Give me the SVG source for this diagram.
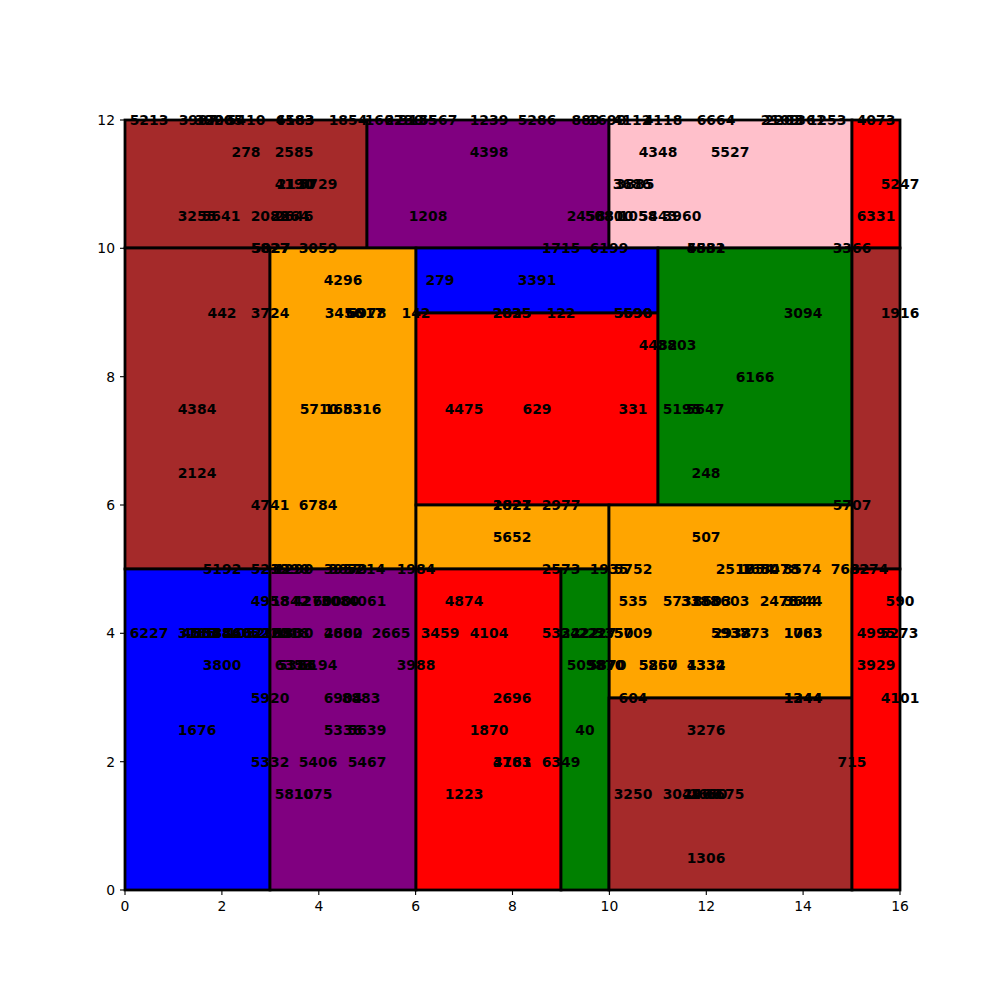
<svg xmlns="http://www.w3.org/2000/svg" width="1000" height="1000" viewBox="0 0 1000 1000">
<style>
.r{stroke:#000;stroke-width:2.78}
.br{fill:#a52a2a}.pu{fill:#800080}.pk{fill:#ffc0cb}.rd{fill:#ff0000}.or{fill:#ffa500}.bl{fill:#0000ff}.gr{fill:#008000}
.t{font-family:"DejaVu Sans",sans-serif;font-weight:bold;font-size:13.9px;text-anchor:middle;fill:#000}
.tk{stroke:#000;stroke-width:1.1}
.xl{font-family:"DejaVu Sans",sans-serif;font-size:13.9px;text-anchor:middle;fill:#000}
.yl{font-family:"DejaVu Sans",sans-serif;font-size:13.9px;text-anchor:end;fill:#000}
</style>
<rect width="1000" height="1000" fill="#fff"/>
<g id="rects">
<g id="r1"><rect class="r br" x="125" y="120" width="242" height="128"/></g>
<g id="r2"><rect class="r pu" x="367" y="120" width="242" height="128"/></g>
<g id="r3"><rect class="r pk" x="609" y="120" width="243" height="128"/></g>
<g id="r4"><rect class="r rd" x="852" y="120" width="48" height="128"/></g>
<g id="r5"><rect class="r br" x="125" y="248" width="145" height="321"/></g>
<g id="r6"><rect class="r or" x="270" y="248" width="146" height="321"/></g>
<g id="r7"><rect class="r bl" x="416" y="248" width="242" height="65"/></g>
<g id="r8"><rect class="r rd" x="416" y="313" width="242" height="192"/></g>
<g id="r9"><rect class="r gr" x="658" y="248" width="194" height="257"/></g>
<g id="r10"><rect class="r br" x="852" y="248" width="48" height="321"/></g>
<g id="r11"><rect class="r or" x="416" y="505" width="193" height="64"/></g>
<g id="r12"><rect class="r or" x="609" y="505" width="243" height="193"/></g>
<g id="r13"><rect class="r bl" x="125" y="569" width="145" height="321"/></g>
<g id="r14"><rect class="r pu" x="270" y="569" width="146" height="321"/></g>
<g id="r15"><rect class="r rd" x="416" y="569" width="145" height="321"/></g>
<g id="r16"><rect class="r gr" x="561" y="569" width="48" height="321"/></g>
<g id="r17"><rect class="r br" x="609" y="698" width="243" height="192"/></g>
<g id="r18"><rect class="r rd" x="852" y="569" width="48" height="321"/></g>
</g>
<g id="axes">
<rect x="125" y="120" width="775" height="770" fill="none" stroke="#000" stroke-width="1.1"/>
<g class="tk">
<line x1="125" y1="890" x2="125" y2="895"/><line x1="221.9" y1="890" x2="221.9" y2="895"/><line x1="318.8" y1="890" x2="318.8" y2="895"/><line x1="415.6" y1="890" x2="415.6" y2="895"/><line x1="512.5" y1="890" x2="512.5" y2="895"/><line x1="609.4" y1="890" x2="609.4" y2="895"/><line x1="706.3" y1="890" x2="706.3" y2="895"/><line x1="803.1" y1="890" x2="803.1" y2="895"/><line x1="900" y1="890" x2="900" y2="895"/>
<line x1="120" y1="890" x2="125" y2="890"/><line x1="120" y1="761.7" x2="125" y2="761.7"/><line x1="120" y1="633.3" x2="125" y2="633.3"/><line x1="120" y1="505" x2="125" y2="505"/><line x1="120" y1="376.7" x2="125" y2="376.7"/><line x1="120" y1="248.3" x2="125" y2="248.3"/><line x1="120" y1="120" x2="125" y2="120"/>
</g>
<text class="xl" x="125" y="911">0</text><text class="xl" x="221.9" y="911">2</text><text class="xl" x="318.8" y="911">4</text><text class="xl" x="415.6" y="911">6</text><text class="xl" x="512.5" y="911">8</text><text class="xl" x="609.4" y="911">10</text><text class="xl" x="706.3" y="911">12</text><text class="xl" x="803.1" y="911">14</text><text class="xl" x="900" y="911">16</text>
<text class="yl" x="115" y="895">0</text><text class="yl" x="115" y="766.7">2</text><text class="yl" x="115" y="638.3">4</text><text class="yl" x="115" y="510">6</text><text class="yl" x="115" y="381.7">8</text><text class="yl" x="115" y="253.3">10</text><text class="yl" x="115" y="125">12</text>
</g>
<g id="labels" class="t">
<text x="149" y="125">5213</text><text x="198" y="125">3987</text><text x="214" y="125">3920</text><text x="224" y="125">2065</text><text x="246" y="125">5410</text><text x="295" y="125">4583</text><text x="295" y="125">6183</text><text x="348" y="125">1854</text><text x="384" y="125">1662</text><text x="404" y="125">2730</text><text x="418" y="125">3135</text><text x="438" y="125">6567</text><text x="489" y="125">1239</text><text x="537" y="125">5286</text><text x="586" y="125">889</text><text x="607" y="125">1690</text><text x="632" y="125">4112</text><text x="663" y="125">4118</text><text x="716" y="125">6664</text><text x="780" y="125">2109</text><text x="784" y="125">2203</text><text x="806" y="125">1361</text><text x="827" y="125">1253</text><text x="876" y="125">4073</text>
<text x="246" y="157">278</text><text x="294" y="157">2585</text><text x="489" y="157">4398</text><text x="658" y="157">4348</text><text x="730" y="157">5527</text>
<text x="294" y="189">4190</text><text x="296" y="189">2130</text><text x="318" y="189">5729</text><text x="632" y="189">3686</text><text x="635" y="189">3885</text><text x="900" y="189">5247</text>
<text x="197" y="221">3255</text><text x="221" y="221">5641</text><text x="270" y="221">2082</text><text x="290" y="221">2864</text><text x="294" y="221">2646</text><text x="428" y="221">1208</text><text x="586" y="221">2458</text><text x="604" y="221">5080</text><text x="614" y="221">8810</text><text x="638" y="221">1058</text><text x="658" y="221">5443</text><text x="682" y="221">3960</text><text x="876" y="221">6331</text>
<text x="270" y="253">5827</text><text x="271" y="253">5027</text><text x="318" y="253">3059</text><text x="561" y="253">1715</text><text x="609" y="253">6199</text><text x="706" y="253">5532</text><text x="706" y="253">4881</text><text x="852" y="253">3366</text>
<text x="343" y="285">4296</text><text x="440" y="285">279</text><text x="537" y="285">3391</text>
<text x="222" y="318">442</text><text x="270" y="318">3724</text><text x="344" y="318">3456</text><text x="365" y="318">6017</text><text x="367" y="318">5978</text><text x="416" y="318">142</text><text x="512" y="318">2835</text><text x="512" y="318">2825</text><text x="561" y="318">122</text><text x="633" y="318">5590</text><text x="633" y="318">5690</text><text x="803" y="318">3094</text><text x="900" y="318">1916</text>
<text x="658" y="350">4482</text><text x="677" y="350">3803</text>
<text x="755" y="382">6166</text>
<text x="197" y="414">4384</text><text x="319" y="414">5710</text><text x="343" y="414">1683</text><text x="362" y="414">5316</text><text x="464" y="414">4475</text><text x="537" y="414">629</text><text x="633" y="414">331</text><text x="682" y="414">5195</text><text x="705" y="414">5647</text>
<text x="197" y="478">2124</text><text x="706" y="478">248</text>
<text x="270" y="510">4741</text><text x="318" y="510">6784</text><text x="512" y="510">1821</text><text x="512" y="510">2827</text><text x="561" y="510">2977</text><text x="852" y="510">5707</text>
<text x="512" y="542">5652</text><text x="706" y="542">507</text>
<text x="222" y="574">5192</text><text x="270" y="574">5219</text><text x="290" y="574">3290</text><text x="294" y="574">1290</text><text x="343" y="574">3957</text><text x="348" y="574">3873</text><text x="366" y="574">5214</text><text x="416" y="574">1984</text><text x="561" y="574">2573</text><text x="609" y="574">1935</text><text x="633" y="574">5752</text><text x="735" y="574">2517</text><text x="755" y="574">1654</text><text x="760" y="574">1680</text><text x="780" y="574">5478</text><text x="802" y="574">8574</text><text x="850" y="574">7682</text><text x="869" y="574">3274</text>
<text x="270" y="606">4958</text><text x="290" y="606">1842</text><text x="312" y="606">4276</text><text x="332" y="606">6000</text><text x="340" y="606">3080</text><text x="367" y="606">4061</text><text x="464" y="606">4874</text><text x="633" y="606">535</text><text x="682" y="606">5731</text><text x="700" y="606">3388</text><text x="712" y="606">8603</text><text x="730" y="606">3603</text><text x="779" y="606">2478</text><text x="798" y="606">7844</text><text x="803" y="606">3644</text><text x="900" y="606">590</text>
<text x="149" y="638">6227</text><text x="197" y="638">3185</text><text x="201" y="638">4583</text><text x="212" y="638">8348</text><text x="222" y="638">5834</text><text x="232" y="638">3460</text><text x="246" y="638">1052</text><text x="262" y="638">6210</text><text x="270" y="638">5210</text><text x="282" y="638">3380</text><text x="290" y="638">2318</text><text x="294" y="638">1330</text><text x="343" y="638">4680</text><text x="343" y="638">2802</text><text x="391" y="638">2665</text><text x="440" y="638">3459</text><text x="489" y="638">4104</text><text x="561" y="638">5332</text><text x="580" y="638">2422</text><text x="597" y="638">2227</text><text x="614" y="638">3350</text><text x="633" y="638">5709</text><text x="730" y="638">5937</text><text x="732" y="638">2933</text><text x="750" y="638">3873</text><text x="803" y="638">1763</text><text x="803" y="638">1083</text><text x="876" y="638">4995</text><text x="899" y="638">5273</text>
<text x="294" y="670">6353</text><text x="297" y="670">5386</text><text x="318" y="670">6194</text><text x="222" y="670">3800</text><text x="416" y="670">3988</text><text x="586" y="670">5098</text><text x="607" y="670">5870</text><text x="605" y="670">3870</text><text x="658" y="670">5860</text><text x="658" y="670">5257</text><text x="706" y="670">4334</text><text x="706" y="670">1332</text><text x="876" y="670">3929</text>
<text x="270" y="703">5920</text><text x="343" y="703">6904</text><text x="361" y="703">8883</text><text x="512" y="703">2696</text><text x="633" y="703">604</text><text x="803" y="703">1344</text><text x="803" y="703">1244</text><text x="900" y="703">4101</text>
<text x="197" y="735">1676</text><text x="343" y="735">5336</text><text x="367" y="735">5639</text><text x="489" y="735">1870</text><text x="585" y="735">40</text><text x="706" y="735">3276</text>
<text x="270" y="767">5332</text><text x="318" y="767">5406</text><text x="367" y="767">5467</text><text x="512" y="767">3781</text><text x="512" y="767">4163</text><text x="561" y="767">6349</text><text x="852" y="767">715</text>
<text x="294" y="799">5810</text><text x="313" y="799">1075</text><text x="464" y="799">1223</text><text x="633" y="799">3250</text><text x="682" y="799">3049</text><text x="702" y="799">2466</text><text x="708" y="799">2660</text><text x="725" y="799">6675</text>
<text x="706" y="863">1306</text>
</g>
</svg>
